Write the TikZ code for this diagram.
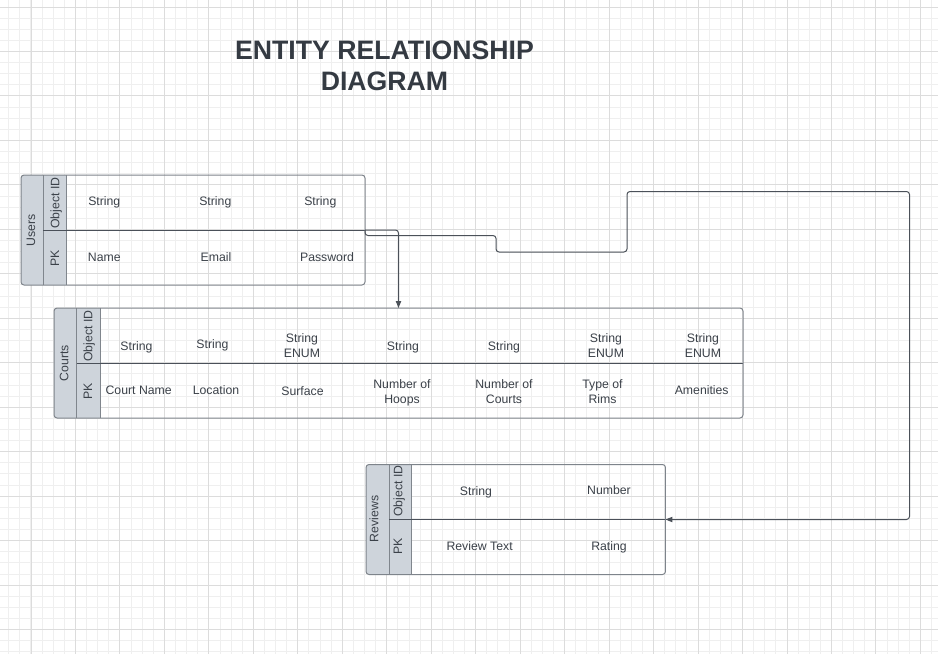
\documentclass[tikz,border=0pt]{standalone}
\usepackage{fontspec}
\setmainfont{Liberation Sans}
\usetikzlibrary{arrows.meta}
\definecolor{gridminor}{HTML}{EFEFEF}
\definecolor{gridmajor}{HTML}{DCDCDC}
\definecolor{hdr}{HTML}{CED4DB}
\definecolor{txt}{HTML}{3B4149}
\definecolor{edgec}{HTML}{7E848B}
\definecolor{colc}{HTML}{80868D}
\definecolor{innerc}{HTML}{4A5059}
\definecolor{connc}{HTML}{4B5159}
\definecolor{titlec}{HTML}{343A42}
\begin{document}
\begin{tikzpicture}[x=0.75pt,y=-0.75pt,
  tablebox/.style={draw=edgec,line width=0.75pt,rounded corners=2.25pt,inner sep=0pt,outer sep=0pt},
  innerline/.style={draw=innerc,line width=0.75pt},
  colline/.style={draw=colc,line width=0.75pt},
  hdrfill/.style={fill=hdr},
  cell/.style={text=txt,font=\fontsize{9.2}{11.25}\selectfont,align=center,inner sep=0pt,text depth=0pt},
  vcell/.style={cell,rotate=90},
  conn/.style={draw=connc,line width=0.75pt,rounded corners=2.25pt},
  tipend/.style={-{Triangle[length=5.25pt,width=4pt]}},
  titletext/.style={text=titlec,font=\fontsize{20}{23.25}\selectfont\bfseries,align=center,inner sep=0pt,text depth=0pt}]
\useasboundingbox (0,0) rectangle (938,654);
\fill[white] (0,0) rectangle (938,654);
% grid
\foreach \i in {0,...,83} \draw[gridminor,line width=0.75pt] (8.76+11.118*\i,0) -- (8.76+11.118*\i,654);
\foreach \i in {0,...,58} \draw[gridminor,line width=0.75pt] (0,7+11.118*\i) -- (938,7+11.118*\i);
\foreach \i in {0,...,20} \draw[gridmajor,line width=0.75pt] (31+44.47*\i,0) -- (31+44.47*\i,654);
\foreach \i in {0,...,14} \draw[gridmajor,line width=0.75pt] (0,7+44.47*\i) -- (938,7+44.47*\i);

% title
\node[titletext] (title) at (384.5,65.5) {ENTITY RELATIONSHIP\\DIAGRAM};

% ---------- Users ----------
\fill[hdrfill,rounded corners=2.25pt] (21,175) rectangle (66.5,285);
\fill[hdrfill] (40,175) rectangle (66.5,285);
\draw[colline] (43.3,175) -- (43.3,285);
\draw[colline] (66.5,175) -- (66.5,285);
\draw[innerline] (43.3,230.5) -- (365,230.5);
\node[tablebox,minimum width=258pt,minimum height=82.5pt] (users) at (193,230) {};
\node[vcell] (usersname) at (31,230) {Users};
\node[vcell] (usersoid) at (55,203) {Object ID};
\node[vcell] (userspk) at (55,258) {PK};
\node[cell] (ut1) at (104.3,201) {String};
\node[cell] (ut2) at (215.3,201) {String};
\node[cell] (ut3) at (320.3,201) {String};
\node[cell] (un1) at (104.3,257) {Name};
\node[cell] (un2) at (216,257) {Email};
\node[cell] (un3) at (327,257) {Password};

% ---------- Courts ----------
\fill[hdrfill,rounded corners=2.25pt] (54,308) rectangle (100,418);
\fill[hdrfill] (70,308) rectangle (100,418);
\draw[colline] (76.7,308) -- (76.7,418);
\draw[colline] (100,308) -- (100,418);
\draw[innerline] (76.7,363.3) -- (743,363.3);
\node[tablebox,minimum width=516.75pt,minimum height=82.5pt] (courts) at (398.5,363) {};
\node[vcell] (courtsname) at (64,363) {Courts};
\node[vcell] (courtsoid) at (88,336) {Object ID};
\node[vcell] (courtspk) at (88,391) {PK};
\node[cell] (ct1) at (136.5,345.7) {String};
\node[cell] (ct2) at (212.5,344) {String};
\node[cell] (ct3) at (302,345.5) {String\\ENUM};
\node[cell] (ct4) at (403,346.5) {String};
\node[cell] (ct5) at (504,346) {String};
\node[cell] (ct6) at (606,345.5) {String\\ENUM};
\node[cell] (ct7) at (703,345.5) {String\\ENUM};
\node[cell] (cn1) at (138.7,390.5) {Court Name};
\node[cell] (cn2) at (216,390) {Location};
\node[cell] (cn3) at (302.5,390.7) {Surface};
\node[cell] (cn4) at (402,391.7) {Number of\\Hoops};
\node[cell] (cn5) at (504,391.7) {Number of\\Courts};
\node[cell] (cn6) at (602.5,391.5) {Type of\\Rims};
\node[cell] (cn7) at (701.7,390) {Amenities};

% ---------- Reviews ----------
\fill[hdrfill,rounded corners=2.25pt] (366,464.5) rectangle (411.5,574.5);
\fill[hdrfill] (385,464.5) rectangle (411.5,574.5);
\draw[colline] (389,464.5) -- (389,574.5);
\draw[colline] (411.5,464.5) -- (411.5,574.5);
\draw[innerline] (389,519.3) -- (665.5,519.3);
\node[tablebox,minimum width=224.6pt,minimum height=82.5pt] (reviews) at (515.75,519.5) {};
\node[vcell] (reviewsname) at (374,519) {Reviews};
\node[vcell] (reviewsoid) at (398,491) {Object ID};
\node[vcell] (reviewspk) at (398,546) {PK};
\node[cell] (rt1) at (476,491) {String};
\node[cell] (rt2) at (609,490) {Number};
\node[cell] (rn1) at (479.6,546) {Review Text};
\node[cell] (rn2) at (609,546) {Rating};

% ---------- connectors ----------
\draw[conn,tipend] (users.east) -| (courts.north);
\draw[conn,tipend] (users.east) |- (496,235.5) |- (627,252) |- (909.5,191.5) |- (reviews.east);
\end{tikzpicture}
\end{document}
